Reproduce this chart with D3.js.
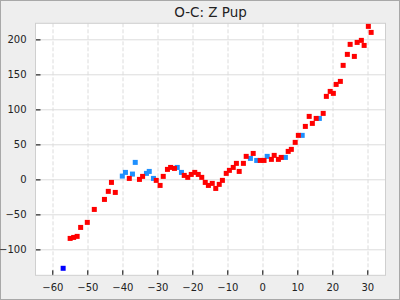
<!DOCTYPE html>
<html>
<head>
<meta charset="utf-8">
<script src="https://cdn.jsdelivr.net/npm/d3@7"></script>
<style>
  body { margin: 0; background: #eeeeee; }
  svg { display: block; font-family: "DejaVu Sans", sans-serif; }
</style>
</head>
<body>
<div id="graphHolder"></div>
<script>
// epoch vs O-C, red = main series, light blue = second series, dark blue = single point
var redX = [-54.9, -53.9, -52.9, -51.9, -50.0, -48.0, -45.1, -44.0, -43.1, -42.0,
    -38.0, -35.1, -34.2, -30.3, -29.2, -28.3, -27.1, -26.2, -25.1, -22.3,
    -21.3, -20.3, -19.3, -18.3, -17.3, -16.3, -15.4, -14.3, -13.3, -12.3,
    -11.4, -10.3, -9.4, -8.3, -7.4, -6.6, -5.4, -4.6, -2.6, -0.6,
    0.5, 2.6, 3.4, 4.6, 5.4, 7.4, 8.3, 9.4, 10.3, 12.3,
    13.4, 14.3, 15.4, 17.4, 18.3, 19.4, 20.3, 21.1, 22.3, 23.1,
    24.3, 25.1, 26.3, 27.1, 28.3, 29.1, 30.3, 31.1];
var redY = [-84.3, -82.9, -81.4, -68.6, -61.4, -42.9, -28.6, -17.1, -4.3, -18.6,
    1.4, 0, 4.3, -1.4, -8.6, 4.3, 14.3, 17.1, 15.7, 5.7,
    2.9, 7.1, 10, 7.1, 2.9, -4.3, -8.6, -5.7, -12.9, -7.1,
    -1.4, 8.6, 12.9, 17.1, 22.9, 11.4, 22.9, 32.9, 37.1, 27.1,
    27.1, 28.6, 34.3, 28.6, 31.4, 40, 42.9, 52.9, 62.9, 75.7,
    90, 80, 87.1, 94.3, 118.6, 125.7, 122.9, 135.7, 140, 162.9,
    178.6, 192.9, 175.7, 195.7, 198.6, 191.4, 218.6, 210];

var blueX = [-40.0, -39.1, -37.1, -36.3, -33.1, -32.3, -31.1, -24.3, -23.1, -3.4,
    -1.6, 1.4, 6.6, 11.4, 16.3];
var blueY = [4.7, 10, 7.6, 24.3, 8.6, 11.4, 1.4, 17.1, 10, 30,
    27.1, 32.9, 31.4, 62.9, 87.1];

var darkX = [-56.9];
var darkY = [-127];

var xTicks = [-60, -50, -40, -30, -20, -10, 0, 10, 20, 30];
var yTicks = [-100, -50, 0, 50, 100, 150, 200];

var graphWidth = 400;
var graphHeight = 300;

function drawChart() {
    var mLeft = 35.5, mTop = 23.3;
    var pW = 350, pH = 252;

    var svg = d3.select("#graphHolder")
            .append("svg")
            .attr("width", graphWidth)
            .attr("height", graphHeight);

    svg.append("rect")
            .attr("x", 0.5).attr("y", 0.5)
            .attr("width", graphWidth - 1).attr("height", graphHeight - 1)
            .attr("fill", "#eeeeee")
            .attr("stroke", "#a8a8a8");

    svg.append("text")
            .attr("x", mLeft + pW / 2)
            .attr("y", 17)
            .attr("text-anchor", "middle")
            .attr("font-size", "13.5px")
            .attr("fill", "#222")
            .text("O-C: Z Pup");

    var g = svg.append("g")
            .attr("transform", "translate(" + mLeft + "," + mTop + ")");

    var x = d3.scaleLinear().domain([-64.8, 35.2]).range([0, pW]);
    var y = d3.scaleLinear().domain([-137, 223]).range([pH, 0]);

    g.append("rect")
            .attr("width", pW).attr("height", pH)
            .attr("fill", "#fff");

    // grid
    g.selectAll(".hgrid").data(yTicks).enter()
            .append("line")
            .attr("x1", 0).attr("x2", pW)
            .attr("y1", function (d) { return Math.round(y(d)) + 0.5; })
            .attr("y2", function (d) { return Math.round(y(d)) + 0.5; })
            .attr("stroke", "#dcdcdc");

    g.selectAll(".vgrid").data(xTicks).enter()
            .append("line")
            .attr("y1", 0).attr("y2", pH)
            .attr("x1", function (d) { return Math.round(x(d)) + 0.5; })
            .attr("x2", function (d) { return Math.round(x(d)) + 0.5; })
            .attr("stroke", "#dcdcdc")
            .attr("stroke-dasharray", "4,2");

    // axes: major + minor ticks pointing into the plot
    var xMinor = d3.range(-60, 36, 5);
    var yMinor = d3.range(-130, 223, 10);

    var xa = g.append("g").attr("transform", "translate(0," + pH + ")");
    xa.call(d3.axisBottom(x).tickValues(xMinor).tickSize(-2.5).tickFormat(""));
    xa.call(d3.axisBottom(x).tickValues(xTicks).tickSize(-5).tickPadding(9).tickFormat(d3.format("d")));

    var ya = g.append("g");
    ya.call(d3.axisLeft(y).tickValues(yMinor).tickSize(-3).tickFormat(""));
    ya.call(d3.axisLeft(y).tickValues(yTicks).tickSize(-5).tickPadding(9).tickFormat(d3.format("d")));

    g.selectAll(".domain").remove();
    g.selectAll(".tick line").attr("stroke", "#000");
    g.selectAll(".tick text")
            .attr("font-family", "DejaVu Sans, sans-serif")
            .attr("font-size", "10px")
            .attr("fill", "#222");

    g.append("rect")
            .attr("width", pW).attr("height", pH)
            .attr("fill", "none")
            .attr("stroke", "#cfcfcf");

    var s = 5;

    function drawSquares(xs, ys, color) {
        g.append("g").selectAll("rect")
                .data(xs.map(function (d, i) { return [d, ys[i]]; }))
                .enter().append("rect")
                .attr("x", function (d) { return x(d[0]) - s / 2; })
                .attr("y", function (d) { return y(d[1]) - s / 2; })
                .attr("width", s).attr("height", s)
                .attr("fill", color);
    }

    drawSquares(blueX, blueY, "#1e90ff");
    drawSquares(redX, redY, "#ff0000");
    drawSquares(darkX, darkY, "#0000ff");
}

drawChart();
</script>
</body>
</html>
